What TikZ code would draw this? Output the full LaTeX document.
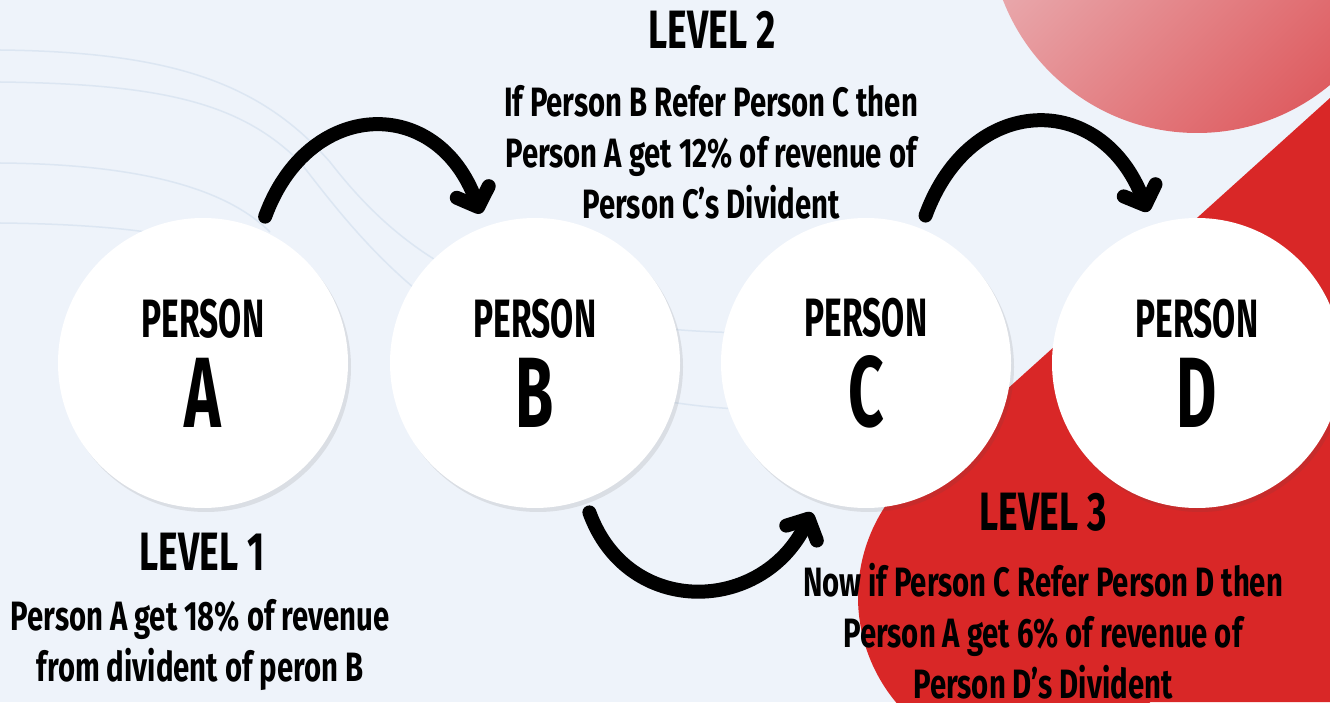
\documentclass[tikz,border=0pt]{standalone}
\usepackage{fontspec}
\setmainfont{Fira Sans}[FakeStretch=0.62]
\newfontfamily\levelfont{Fira Sans}[FakeStretch=0.69]
\newfontfamily\bodyfont{Fira Sans}[FakeStretch=0.715]
\usetikzlibrary{arrows.meta,shadows}
\definecolor{bgblue}{HTML}{EEF3FA}
\definecolor{wave}{HTML}{DCE6F2}
\definecolor{pinklight}{HTML}{EDC6CA}
\definecolor{pinkdark}{HTML}{DE5C60}
\definecolor{redbg}{HTML}{D92727}
\tikzset{
  person/.style={circle, fill=white, minimum size=290pt, inner sep=0pt, outer sep=14pt,
    align=center, font=\bfseries\fontsize{54}{90}\selectfont,
    drop shadow={shadow xshift=3pt, shadow yshift=-4pt, opacity=0.12, fill=black!70}},
  heading/.style={font=\levelfont\bfseries\fontsize{54}{54}\selectfont},
  body/.style={align=center, font=\bodyfont\bfseries\fontsize{41}{51}\selectfont},
  hop/.style={line width=14pt, line cap=round, -{Straight Barb[length=16pt, width=34pt, round]}},
}

\begin{document}
\begin{tikzpicture}[x=1pt, y=1pt]
  \fill[bgblue] (0,0) rectangle (1330,702);
  \useasboundingbox (0,0) rectangle (1330,702);

  % faint waves
  \draw[wave, line width=1.5pt] (0,652) .. controls (170,650) and (260,620) .. (330,540)
    .. controls (400,450) and (500,370) .. (760,369);
  \draw[wave, line width=1.5pt] (0,620) .. controls (160,618) and (240,600) .. (300,540)
    .. controls (370,450) and (480,300) .. (760,292);
  \draw[wave, line width=1.5pt] (0,539) .. controls (120,538) and (220,520) .. (270,470);
  \draw[wave, line width=1.5pt] (0,479) .. controls (100,478) and (160,470) .. (200,460);

  % red shapes
  \shade[top color=pinklight, bottom color=pinkdark, shading angle=45] (1197,777) circle (208pt);
  \fill[redbg] (1023,105) circle (165pt);
  \fill[redbg] (913,228) -- (1330,604) -- (1330,0) -- (1023,0) -- (1023,105) -- cycle;

  % persons
  \node (A) [person] at (203,339) {PERSON\\{\fontsize{100}{90}\selectfont A}};
  \node (B) [person] at (535,339) {PERSON\\{\fontsize{100}{90}\selectfont B}};
  \node (C) [person] at (866,339) {PERSON\\{\fontsize{100}{90}\selectfont C}};
  \node (D) [person] at (1197,339) {PERSON\\{\fontsize{100}{90}\selectfont D}};

  \draw[hop] (A.67) to[out=70, in=110, looseness=1.5] (B.110);
  \draw[hop] (B.-70) to[out=-70, in=-116, looseness=1.3] (C.-110);
  \draw[hop] (C.68) to[out=70, in=111, looseness=1.5] (D.108);

  % levels
  \node (lvtwo) [heading] at (712,672) {LEVEL 2};
  \node (txttwo) [body] at (711,550) {If Person B Refer Person C then\\Person A get 12\% of revenue of\\Person C’s Divident};
  \node (lvone) [heading] at (202,150) {LEVEL 1};
  \node (txtone) [body] at (200,57) {Person A get 18\% of revenue\\from divident of peron B};
  \node (lvthree) [heading] at (1043,190) {LEVEL 3};
  \node (txtthree) [body] at (1043,71) {Now if Person C Refer Person D then\\Person A get 6\% of revenue of\\Person D’s Divident};
\end{tikzpicture}
\end{document}
